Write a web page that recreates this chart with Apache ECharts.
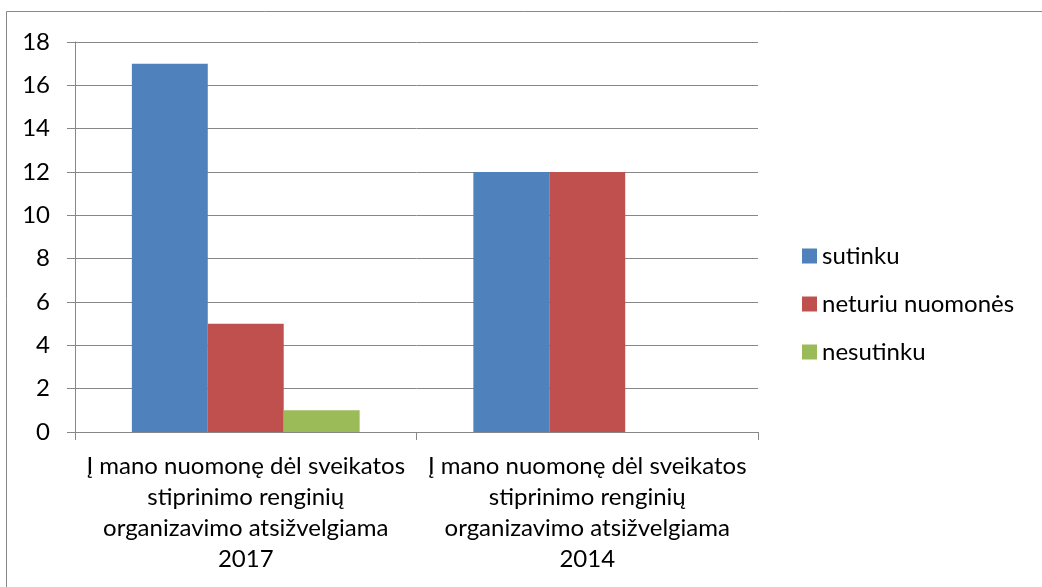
<!DOCTYPE html>
<html>
<head>
<meta charset="utf-8">
<script src="https://cdn.jsdelivr.net/npm/echarts@6/dist/echarts.min.js"></script>
<style>
  html, body { margin: 0; padding: 0; background: #fff; }
  #chart { width: 1042px; height: 587px; }
</style>
</head>
<body>
<div id="chart"></div>
<script>
const categories = [
  "Į mano nuomonę dėl sveikatos stiprinimo renginių organizavimo atsižvelgiama 2017",
  "Į mano nuomonę dėl sveikatos stiprinimo renginių organizavimo atsižvelgiama 2014"
];
const seriesNames = ["sutinku", "neturiu nuomonės", "nesutinku"];
const sutinku = [17, 12];
const neturiuNuomones = [5, 12];
const nesutinku = [1, null];
const colors = ["#4F81BD", "#C0504D", "#9BBB59"];

const FONT = "Lato";
const FS = 24;
const gridColor = "#878787";

// wrap the long category names the way the original chart does
function wrapLabel(v) {
  return v
    .replace(" stiprinimo", "\nstiprinimo")
    .replace(" organizavimo", "\norganizavimo")
    .replace(/ (\d{4})$/, "\n$1");
}

const chart = echarts.init(document.getElementById("chart"));

const option = {
  animation: false,
  textStyle: { fontFamily: FONT },
  graphic: [
    {
      type: "rect",
      shape: { x: 6.5, y: 11.5, width: 1100, height: 700 },
      style: { fill: "none", stroke: "#898989", lineWidth: 1 }
    }
  ],
  grid: {
    left: 75,
    right: 284,
    top: 42,
    bottom: 155
  },
  legend: {
    orient: "vertical",
    left: 797,
    top: 239,
    itemWidth: 15,
    itemHeight: 15,
    itemGap: 24,
    icon: "rect",
    textStyle: { fontFamily: FONT, fontSize: FS, color: "#000" },
    data: seriesNames
  },
  xAxis: {
    type: "category",
    data: categories,
    axisLine: { lineStyle: { color: gridColor, width: 1 } },
    axisTick: { show: true, length: 8, lineStyle: { color: gridColor } },
    axisLabel: {
      interval: 0,
      color: "#000",
      fontFamily: FONT,
      fontSize: FS,
      lineHeight: 31,
      margin: 19,
      align: "center",
      formatter: wrapLabel
    }
  },
  yAxis: {
    type: "value",
    min: 0,
    max: 18,
    interval: 2,
    axisLine: { show: true, lineStyle: { color: gridColor, width: 1 } },
    axisTick: { show: true, length: 8, lineStyle: { color: gridColor } },
    splitLine: { show: true, lineStyle: { color: gridColor, width: 1 } },
    axisLabel: {
      color: "#000",
      fontFamily: FONT,
      fontSize: FS,
      margin: 25
    }
  },
  series: [
    {
      name: seriesNames[0],
      type: "bar",
      data: sutinku,
      barGap: "0%",
      barCategoryGap: "33.3%",
      itemStyle: { color: colors[0] }
    },
    {
      name: seriesNames[1],
      type: "bar",
      data: neturiuNuomones,
      itemStyle: { color: colors[1] }
    },
    {
      name: seriesNames[2],
      type: "bar",
      data: nesutinku,
      itemStyle: { color: colors[2] }
    }
  ]
};

chart.setOption(option);
</script>
</body>
</html>
